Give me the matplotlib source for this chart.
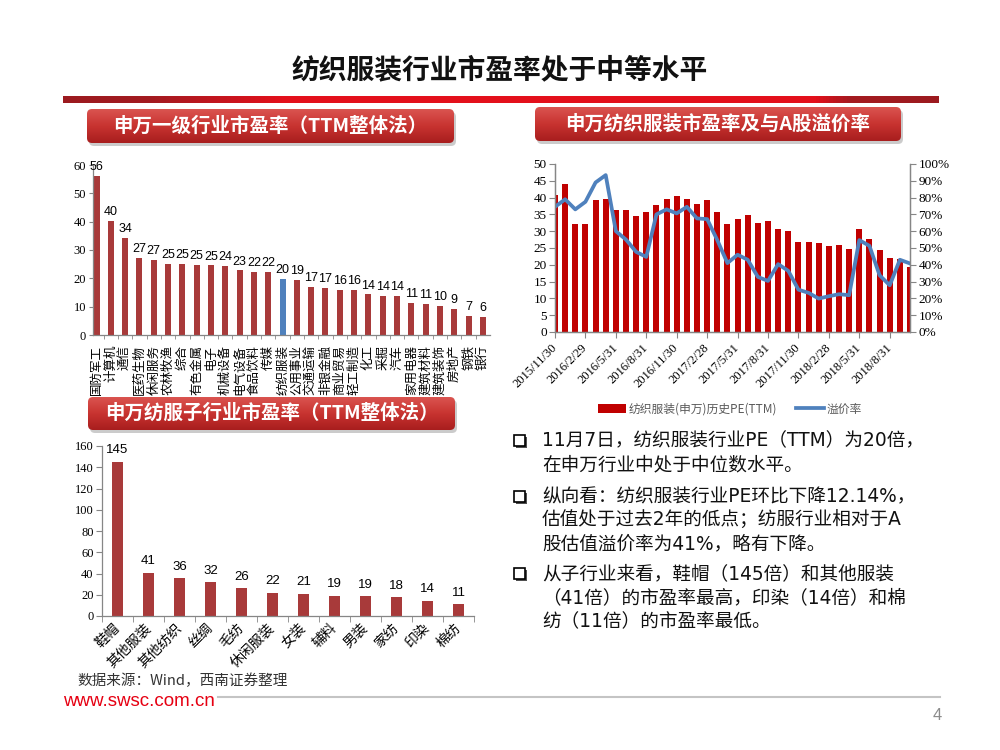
import numpy as np
import matplotlib
matplotlib.use('Agg')
import matplotlib.pyplot as plt
from matplotlib.patches import FancyBboxPatch, Rectangle
from matplotlib.colors import LinearSegmentedColormap
from matplotlib.ticker import FuncFormatter

plt.rcParams['font.family'] = ['Noto Sans CJK SC', 'DejaVu Sans']
plt.rcParams['axes.unicode_minus'] = False

# ---------------- data ----------------
industries = ['国防军工', '计算机', '通信', '医药生物', '休闲服务', '农林牧渔', '综合',
              '有色金属', '电子', '机械设备', '电气设备', '食品饮料', '传媒', '纺织服装',
              '公用事业', '交通运输', '非银金融', '商业贸易', '轻工制造', '化工', '采掘',
              '汽车', '家用电器', '建筑材料', '建筑装饰', '房地产', '钢铁', '银行']
industry_pe = [56.2, 40.2, 34.2, 27.2, 26.6, 25.1, 25.0, 24.7, 24.6, 24.3, 22.8, 22.4,
               22.2, 19.7, 19.4, 16.9, 16.6, 16.0, 15.9, 14.3, 13.9, 13.7, 11.3, 10.9,
               10.4, 9.1, 6.8, 6.4]
highlight = '纺织服装'

sub_industries = ['鞋帽', '其他服装', '其他纺织', '丝绸', '毛纺', '休闲服装', '女装',
                  '辅料', '男装', '家纺', '印染', '棉纺']
sub_pe = [144.9, 40.6, 35.6, 31.8, 26.2, 21.8, 20.9, 18.9, 18.6, 17.8, 14.1, 10.9]

date_ticks = ['2015/11/30', '2016/2/29', '2016/5/31', '2016/8/31', '2016/11/30',
              '2017/2/28', '2017/5/31', '2017/8/31', '2017/11/30', '2018/2/28',
              '2018/5/31', '2018/8/31']
hist_pe = [40.7, 44.1, 32.0, 32.0, 39.2, 39.5, 36.3, 36.3, 34.6, 35.6, 37.7, 39.7,
           40.5, 39.5, 38.0, 39.2, 35.8, 32.1, 33.7, 34.7, 32.5, 33.0, 30.6, 30.2,
           26.9, 26.7, 26.6, 25.7, 25.8, 24.8, 30.7, 27.6, 24.4, 22.0, 21.8, 19.4]
premium = [74.5, 79.0, 73.0, 77.5, 89.0, 93.4, 60.0, 55.0, 47.7, 44.7, 70.0, 73.0,
           70.6, 74.5, 67.6, 67.2, 54.7, 41.0, 46.0, 43.0, 32.8, 30.4, 40.4, 36.4,
           25.2, 23.3, 19.9, 21.3, 22.5, 21.9, 54.7, 51.3, 33.8, 27.8, 43.0, 40.8]

title = '纺织服装行业市盈率处于中等水平'
banner1 = '申万一级行业市盈率（TTM整体法）'
banner2 = '申万纺织服装市盈率及与A股溢价率'
banner3 = '申万纺服子行业市盈率（TTM整体法）'
legend_labels = ['纺织服装(申万)历史PE(TTM)', '溢价率']
bullet_lines = [
    ['11月7日，纺织服装行业PE（TTM）为20倍，', '在申万行业中处于中位数水平。'],
    ['纵向看：纺织服装行业PE环比下降12.14%，', '估值处于过去2年的低点；纺服行业相对于A',
     '股估值溢价率为41%，略有下降。'],
    ['从子行业来看，鞋帽（145倍）和其他服装', '（41倍）的市盈率最高，印染（14倍）和棉',
     '纺（11倍）的市盈率最低。'],
]
source = '数据来源：Wind，西南证券整理'
url = 'www.swsc.com.cn'
page = '4'

# ---------------- figure ----------------
W, H = 1000, 750
fig = plt.figure(figsize=(10, 7.5), dpi=100)
fig.patch.set_facecolor('white')
ov = fig.add_axes([0, 0, 1, 1], zorder=0)
ov.axis('off')


def px_axes(l, t, r, b):
    return fig.add_axes([l / W, 1 - b / H, (r - l) / W, (b - t) / H], zorder=2)


SERIF = 'Liberation Serif'
NUMF = 'Liberation Sans'
GRAY = '#868686'

# title
ov.text(500, 70, title, ha='center', va='center', fontsize=20, fontweight='bold', color='#111111')
cm_bar = LinearSegmentedColormap.from_list('bar', [(0, '#9C1A1F'), (0.1, '#A31B21'), (0.25, '#E3101B'),
                                                   (0.86, '#E3101B'), (0.9, '#A41A20'), (1, '#9C1A1F')])
ov.imshow(np.linspace(0, 1, 256)[None, :], extent=[63, 939, 103, 96], cmap=cm_bar, aspect='auto', zorder=1)

cm_ban = LinearSegmentedColormap.from_list('ban', ['#DA5450', '#C83330', '#A81E1E'])


def banner(x, y, w, h, text):
    sh = FancyBboxPatch((x + 2, y + 3), w, h, boxstyle='round,pad=0,rounding_size=5',
                        fc='#7f7f7f', ec='none', alpha=0.4, zorder=1)
    ov.add_patch(sh)
    p = FancyBboxPatch((x, y), w, h, boxstyle='round,pad=0,rounding_size=5',
                       fc='none', ec='none', zorder=2)
    ov.add_patch(p)
    im = ov.imshow(np.linspace(0, 1, 64)[:, None], extent=[x, x + w, y + h, y], cmap=cm_ban,
                   aspect='auto', zorder=2)
    im.set_clip_path(p)
    ov.text(x + w / 2, y + h / 2, text, ha='center', va='center', color='white',
            fontsize=14, fontweight='bold', zorder=3)


banner(87, 109, 367, 34, banner1)
banner(535, 107, 366, 34, banner2)
banner(88, 397, 367, 33, banner3)

# bullet text
ys = [[441, 465], [497, 520, 544], [574, 598, 622]]
for lines, yy in zip(bullet_lines, ys):
    y0 = yy[0]
    ov.add_patch(Rectangle((515.5, y0 - 4), 11, 11, fc='#505050', ec='none', zorder=3))
    ov.add_patch(Rectangle((513.5, y0 - 6), 11, 11, fc='white', ec='black', lw=1.2, zorder=4))
    for s, y in zip(lines, yy):
        ov.text(542, y, s, ha='left', va='center', fontsize=13.4, color='#111111',
                family=['DejaVu Sans', 'Noto Sans CJK SC'])

# footer
ov.text(77, 681, source, ha='left', va='center', fontsize=10.5, color='#333333')
ov.text(63, 702, url, ha='left', va='center', fontsize=13.5, color='#E60012',
        family=['Liberation Sans Narrow', 'Liberation Sans'])
ov.plot([218, 940], [697, 697], color='#C4C4C4', lw=1.5)
ov.text(937, 716, page, ha='center', va='center', fontsize=12, color='#8C8C8C',
        family=['Liberation Sans Narrow', 'Liberation Sans'])

ov.set_xlim(0, W)
ov.set_ylim(H, 0)


def style_axes(ax, spines=('left', 'bottom')):
    ax.set_facecolor('none')
    for k, s in ax.spines.items():
        if k in spines:
            s.set_color(GRAY)
            s.set_linewidth(0.9)
        else:
            s.set_visible(False)


# ---------------- chart 1 ----------------
ax1 = px_axes(93, 165, 490, 335)
x1 = np.arange(len(industries))
c1 = ['#4F81BD' if n == highlight else '#A83A3A' for n in industries]
b1 = ax1.bar(x1, industry_pe, width=0.42, color=c1)
ax1.bar_label(b1, labels=[f'{v:.0f}' for v in industry_pe], padding=2, fontsize=9, family=NUMF)
ax1.set_xlim(-0.25, len(industries) - 0.5)
ax1.set_ylim(0, 60)
ax1.set_yticks(range(0, 61, 10))
ax1.set_xticks(x1)
ax1.set_xticklabels(industries, rotation=90, fontsize=9)
ax1.set_xticks(x1[:-1] + 0.5, minor=True)
ax1.tick_params(axis='x', which='major', length=0, pad=7)
ax1.tick_params(axis='x', which='minor', length=3, color=GRAY)
ax1.tick_params(axis='y', length=3, color=GRAY, pad=2, labelsize=9, labelfontfamily=SERIF)
style_axes(ax1)

# ---------------- chart 2 ----------------
ax2 = px_axes(102, 446, 474, 616)
x2 = np.arange(len(sub_industries))
b2 = ax2.bar(x2, sub_pe, width=0.33, color='#A83A3A')
ax2.bar_label(b2, labels=[f'{v:.0f}' for v in sub_pe], padding=4, fontsize=9.5, family=NUMF)
ax2.set_xlim(-0.5, len(sub_industries) - 0.5)
ax2.set_ylim(0, 160)
ax2.set_yticks(range(0, 161, 20))
ax2.set_xticks(x2)
ax2.set_xticklabels(sub_industries, rotation=45, ha='right', va='center',
                    rotation_mode='anchor', fontsize=10)
ax2.set_xticks(np.arange(len(sub_industries) + 1) - 0.5, minor=True)
ax2.tick_params(axis='x', which='major', length=0, pad=7)
ax2.tick_params(axis='x', which='minor', length=4, color=GRAY)
ax2.tick_params(axis='y', length=4, color=GRAY, pad=2, labelsize=9, labelfontfamily=SERIF)
style_axes(ax2)

# ---------------- chart 3 ----------------
ax3 = px_axes(555, 164, 910, 332)
x3 = np.arange(len(hist_pe))
b3 = ax3.bar(x3, hist_pe, width=0.6, color='#C00000')
ax3.set_xlim(0, len(hist_pe) - 1)
ax3.set_ylim(0, 50)
ax3.set_yticks(range(0, 51, 5))
ax3.set_xticks(x3[::3])
ax3.set_xticklabels(date_ticks, rotation=45, ha='right', va='center', rotation_mode='anchor',
                    fontsize=9, family=SERIF)
ax3.tick_params(axis='x', length=4, color=GRAY, pad=6)
ax3.tick_params(axis='y', length=4, color=GRAY, pad=2, labelsize=9.5, labelfontfamily=SERIF)
style_axes(ax3, spines=('left', 'bottom', 'right'))

ax4 = ax3.twinx()
ln, = ax4.plot(x3, premium, color='#4F81BD', lw=2.7, solid_joinstyle='round')
ax4.set_ylim(0, 100)
ax4.set_yticks(range(0, 101, 10))
ax4.yaxis.set_major_formatter(FuncFormatter(lambda v, p: f'{v:.0f}%'))
ax4.tick_params(axis='y', length=4, color=GRAY, pad=2, labelsize=9.5, labelfontfamily=SERIF)
style_axes(ax4, spines=('left', 'bottom', 'right'))

ax3.legend(handles=[b3, ln], labels=legend_labels, loc='center',
           bbox_to_anchor=(730 / W, 1 - 409 / H), bbox_transform=fig.transFigure,
           ncol=2, frameon=False, fontsize=8.5, handlelength=2.4, handleheight=0.7,
           handletextpad=0.2, columnspacing=1.6, labelcolor='#595959')

fig.savefig('out.png', dpi=100)
